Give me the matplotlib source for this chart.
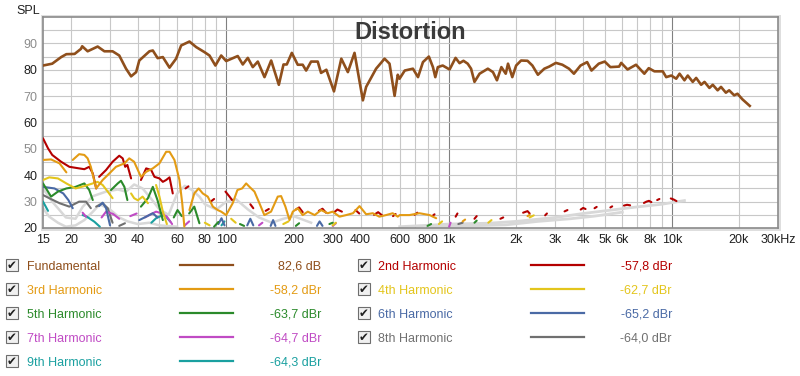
import numpy as np
import matplotlib
matplotlib.use("Agg")
import matplotlib.pyplot as plt
from matplotlib.lines import Line2D
from matplotlib.patches import Rectangle

plt.rcParams["font.family"] = ["Liberation Sans", "DejaVu Sans"]

N = None  # gap marker

# -------------------------------
# Data
# -------------------------------
fund_f = [15, 16.5, 18.1, 19.1, 20.8, 22.2, 22.5, 23.8, 26.4, 28.3, 30.8, 33.0, 35.4, 37.3,
          39.3, 40.6, 45.1, 46.7, 49.1, 51.8, 55.5, 59.4, 62.6, 68.2, 73.1, 79.6, 83.9, 89.2,
          94.7, 99.7, 106.7, 112.4, 118.4, 124.7, 131.3, 138.3, 148.2, 158.8, 171.9, 180.4,
          186.6, 196.6, 209, 220, 228, 240, 257, 266, 281, 304, 328, 351, 376, 410, 424, 470,
          513, 540, 569, 588, 599, 632, 688, 725, 763, 811, 846, 867, 890, 936, 1005, 1069,
          1114, 1160, 1212, 1255, 1300, 1370, 1493, 1574, 1640, 1717, 1796, 1839, 1922, 2000,
          2105, 2249, 2366, 2505, 2677, 2816, 3017, 3226, 3456, 3635, 3893, 4168, 4360, 4700,
          5000, 5300, 5800, 5930, 6330, 6910, 7530, 7880, 8360, 9110, 9440, 9950, 10470, 10840,
          11400, 11800, 12420, 12870, 13550, 14030, 14760, 15280, 16070, 16640, 17500, 18100,
          19070, 19730, 20760, 22400]
fund_db = [81.6, 82.3, 84.8, 85.9, 86.0, 87.9, 88.9, 87.0, 88.8, 87.0, 87.0, 85.4, 80.4, 77.5,
           79.1, 83.5, 87.0, 87.3, 84.4, 84.8, 80.8, 84.2, 89.2, 90.7, 88.6, 86.7, 85.4, 81.6,
           85.4, 83.3, 84.4, 85.2, 82.0, 84.5, 81.0, 83.1, 77.2, 83.5, 74.3, 82.0,
           82.0, 86.4, 81.9, 81.9, 79.7, 83.1, 83.1, 78.8, 80.0, 71.8, 84.2, 79.1, 86.4, 68.4, 73.5, 80.4,
           84.2, 82.3, 70.1, 78.1, 76.6, 79.7, 80.4, 77.2, 82.9, 85.0, 81.0, 77.2, 81.0, 81.6, 80.1, 84.5,
           82.5, 83.4, 82.3, 80.4, 75.4, 78.5, 80.4, 79.1, 76.0, 81.0, 78.5, 82.3, 77.2, 81.6,
           83.5, 83.4, 81.6, 78.1, 80.4, 81.2, 82.6, 81.9, 80.4, 78.5, 81.6, 82.9, 79.7, 82.3,
           83.1, 81.0, 81.2, 82.6, 80.1, 81.9, 78.5, 80.6, 79.4, 79.4, 77.2, 77.8, 76.6, 78.5,
           76.0, 77.8, 75.4, 76.9, 74.3, 75.4, 73.1, 74.3, 72.2, 73.5, 71.3, 72.2,
           70.3, 70.9, 68.8, 66.3]

h2_f = [15, 15.8, 16.5, 18.1, 19.7, 21.8, 23, 24.2, 25.1, 26, N,
        26.8, 28.8, 30.8, 33.0, 34.2, 35.1, 35.9, 37.3, N,
        41.3, 43.6, 45.9, 47.5, 50, 51.8, 53.6, 55.5, 57.4, N,
        65.5, 67.5, N, 85, 88, N, 99, 103, 106, N, 128, 132, N, 150, 155, N,
        205, 212, 220, N, 260, 270, 280, N, 305, 315, 330, N, 380, 395, N,
        460, 480, 500, N, 560, 575, N, 700, 720, N, 840, 860, N,
        1070, 1090, N, 1300, 1330, N, 1700, 1750, N, 2150, 2250, 2300, N, 2700, 2750, N,
        3300, 3400, N, 3900, 4000, 4100, N, 4500, 4600, N, 5300, 5400, N,
        6100, 6300, 6500, N, 7500, 7700, 7900, 8100, N, 8600, 8800, N, 9900, 10200, 10500]
h2_db = [54.0, 50.2, 47.7, 45.1, 43.2, 42.6, 42.3, 43.2, 40.7, 35.0, N,
         39.4, 42.0, 45.1, 47.4, 46.4, 43.2, 43.9, 38.8, N,
         38.2, 42.6, 42.0, 39.4, 38.8, 37.5, 38.2, 39.2, 33.1, N,
         35.0, 35.8, N, 30.0, 31.0, N, 33.8, 32.0, 30.6, N, 29.0, 27.5, N, 26.5, 27.2, N,
         27.0, 27.8, 26.0, N, 26.5, 27.3, 25.8, N, 26.0, 27.0, 26.2, N, 26.8, 25.5, N,
         25.0, 26.0, 24.8, N, 24.5, 25.3, N, 25.0, 25.8, N, 24.5, 25.2, N,
         24.3, 25.5, N, 23.5, 24.5, N, 23.5, 24.0, N, 25.8, 26.4, 25.5, N, 24.8, 25.5, N,
         26.3, 26.8, N, 27.0, 27.6, 27.2, N, 27.5, 28.0, N, 27.8, 28.2, N,
         28.5, 28.8, 28.6, N, 29.5, 30.0, 30.3, 29.8, N, 30.6, 31.0, N, 31.2, 30.8, 30.2]

h3_f = [15, 16.3, 17.8, 19.1, N, 20.4, 21.8, 23, 23.8, 24.6, 26, 27.8, 29.8, 31.9, 34.8, 36.6,
        38.5, 41.3, 43.6, 46.7, 50, 53.6, 55.5, 58.4, 61.5, 63.3, 64.7, N,
        68.2, 71.7, 75, 78.3, 82.4, 86.9, 91.4, 94.7, 99.7, 106.7, 112, 117.6, 122.6, 126.9,
        133.6, 140.6, 148, 158.6, 170, 176, 184, 192, 198.6, 209, 220, 232, 249, 266, 285,
        300, 322, 345, 370, 396, 424, 454, 486, 521, 558, 588, 600, 663, 736, 818, 875, N,
        1150, 1180, N, 2250, 2300]
h3_db = [45.8, 46.0, 44.5, 41.1, N, 45.8, 48.0, 47.7, 46.4, 43.2, 35.0, 38.2, 40.7, 43.2, 44.5, 46.4,
         45.1, 39.4, 41.3, 42.6, 44.5, 48.9, 48.9, 45.8, 38.2, 29.4, 20.5, N,
         26.8, 33.1, 35.0, 33.1, 31.9, 28.1, 26.8, 26.2, 24.9, 29.4, 34.4, 35.0, 36.9, 35.6,
         33.8, 29.4, 24.9, 26.2, 31.9, 32.1, 28.1, 23.0, 26.2, 27.5, 24.9, 26.2, 24.9, 26.8, 25.6,
         26.2, 24.3, 24.9, 25.6, 28.3, 25.2, 25.6, 24.3, 24.9, 25.6, 24.3, 24.9, 24.9, 25.6, 24.9, 23.7, N,
         22.5, 23.2, N, 24.5, 25.0]

h4_f = [15, 16, 17.5, 19.1, 21, 23, 25.1, 26.4, 27.8, 29.3, 30.8, N,
        37.3, 38.5, 40, 42, 44.4, N, 48.3, 50, 51.8, 54, N, 80, 84, N, 105, 110, N,
        180, 190, N, 300, 310, N, 900, 930, N, 1500, 1550, N, 2300, 2400]
h4_db = [38.2, 39.2, 38.8, 36.9, 35.0, 35.9, 36.9, 37.5, 36.3, 33.8, 31.3, N,
         33.1, 31.3, 30.5, 31.9, 29.4, N, 36.3, 31.9, 26.2, 21.5, N, 22.0, 21.0, N, 23.5, 22.0, N,
         21.5, 22.5, N, 21.0, 22.0, N, 21.5, 22.5, N, 22.0, 23.0, N, 24.0, 24.8]

h5_f = [15, 16.3, 17.5, 19.1, 21, 23, 24.2, 25.1, N, 30.3, 32.5, 33.6, 34.8, 35.9, N,
        41.3, 44.4, 46.7, 49, 51.8, N, 58, 60.3, 63, N, 68, 71.7, 75.6, N,
        88, 92, N, 115, 120, N, 205, 212, N, 290, 300, N, 800, 830, N, 1300, 1330]
h5_db = [36.9, 31.9, 33.8, 35.0, 35.6, 36.9, 34.4, 30.6, N, 34.4, 36.9, 37.9, 35.6, 30.6, N,
         28.1, 31.3, 35.6, 30.6, 23.0, N, 24.0, 26.8, 24.5, N, 25.5, 28.1, 21.8, N,
         20.5, 22.3, N, 21.5, 20.8, N, 20.8, 21.8, N, 21.5, 22.0, N, 20.8, 21.5, N, 22.0, 22.8]

h6_f = [15, 16.9, 18.5, 19.5, 20.4, N, 26.8, 27.8, 28.8, 30, N, 40.6, 43.6, 46.7, 49, N,
        92, 95, 98, N, 124, 128, 132, N, 158, 162, 166, N, 255, 262, 270]
h6_db = [35.6, 35.0, 33.1, 30.6, 27.5, N, 28.3, 29.6, 27.5, 21.0, N, 23.0, 24.3, 25.6, 24.0, N,
         21.5, 23.7, 21.0, N, 21.0, 23.5, 21.0, N, 20.8, 23.0, 20.8, N, 20.8, 22.5, 20.8]

h7_f = [22.6, 23.4, N, 27.5, 28.8, 31, 33, N, 37, 39.5, N, 43, 45, 48.3, 51, 54, 57, N,
        65, 68, N, 140, 145, N, 300, 310, N, 1000, 1015]
h7_db = [25.8, 24.3, N, 24.0, 26.2, 25.3, 23.5, N, 24.5, 25.5, N, 24.0, 24.9, 26.2, 25.6, 24.3, 21.5, N,
         21.0, 22.5, N, 21.0, 22.0, N, 20.8, 21.8, N, 20.5, 22.0]

h8_f = [15, 16, 17.8, 19.7, 21.8, 23.4, 24.6, N, 26, 27.8, 29.3, 30.8, N, 33, 35, N, 1100, 1150]
h8_db = [32.5, 31.3, 29.4, 28.1, 30.0, 30.0, 27.5, N, 28.1, 29.4, 27.5, 22.0, N, 20.8, 21.8, N, 21.5, 22.0]

h9_f = [15, 15.5, 15.8, N, 22.6, 23.6, 25.5, 27, N, 46, 48.3, 51.8, 53.5, 56, N, 95, 98]
h9_db = [30.0, 27.8, 26.5, N, 24.9, 24.3, 22.4, 20.5, N, 22.0, 23.7, 24.9, 24.3, 22.4, N, 21.0, 22.5]

grey_a_f = [15, 16.5, 17.8, 19, 21, 22.6, 25, 28.8, 32.5, 35.4, 38.5, 42, 46, 50, 55, 60, 65, 70,
            75.6, 80, 90, 100, 110, 125, 140, 160, 180, 200, 240]
grey_a_db = [35.0, 30.0, 26.8, 24.0, 23.5, 28.0, 32.0, 33.8, 34.6, 33.8, 36.5, 35.0, 31.0, 27.0, 25.0,
             33.0, 36.0, 34.4, 31.9, 29.0, 27.0, 30.0, 31.0, 27.0, 24.0, 22.0, 23.5, 24.5, 22.0]
grey_b_f = [15, 16, 17.5, 19, 21, 23, 25, 27, 30, 33, 36, 40, 45, 50, 60]
grey_b_db = [27.5, 24.3, 22.0, 20.5, 21.0, 23.0, 26.0, 29.0, 27.0, 24.0, 22.5, 21.5, 22.0, 21.0, 20.5]
grey_c_f = [600, 800, 1000, 1500, 2000, 3000, 4000, 5000, 7000, 9000, 11400]
grey_c_db = [20.5, 21.0, 21.5, 21.8, 22.5, 24.0, 25.5, 26.5, 28.0, 29.0, 30.4]
grey_d_f = [800, 1200, 1800, 2500, 3500, 4500, 6000]
grey_d_db = [20.3, 20.8, 21.2, 22.5, 23.5, 24.5, 26.0]

legend_names = ["Fundamental", "2nd Harmonic", "3rd Harmonic", "4th Harmonic", "5th Harmonic",
                "6th Harmonic", "7th Harmonic", "8th Harmonic", "9th Harmonic"]
legend_values = ["82,6 dB", "-57,8 dBr", "-58,2 dBr", "-62,7 dBr", "-63,7 dBr",
                 "-65,2 dBr", "-64,7 dBr", "-64,0 dBr", "-64,3 dBr"]
colors = ["#8f4f1c", "#b40000", "#e39b14", "#e3c51c", "#2b8a2b",
          "#4a6aa5", "#c04bc4", "#707070", "#1aa0a0"]

x_ticks = [15, 20, 30, 40, 60, 80, 100, 200, 300, 400, 600, 800, 1000, 2000, 3000, 4000,
           5000, 6000, 8000, 10000, 20000, 30000]
x_labels = ["15", "20", "30", "40", "60", "80", "100", "200", "300", "400", "600", "800", "1k",
            "2k", "3k", "4k", "5k", "6k", "8k", "10k", "20k", "30kHz"]


def arr(v):
    return np.array([np.nan if x is None else x for x in v], dtype=float)


# -------------------------------
# Figure
# -------------------------------
fig = plt.figure(figsize=(8, 3.76), dpi=100)
L, R, T, B = 43, 778, 17, 228
ax = fig.add_axes([L / 800, 1 - B / 376, (R - L) / 800, (B - T) / 376])
ax.set_zorder(2)

# frame shadow behind the axes
shadow = Rectangle(((L - 2) / 800, 1 - (B + 3) / 376), (R - L + 5) / 800, (B - T + 5) / 376,
                   transform=fig.transFigure, facecolor="#dedede", edgecolor="none", zorder=-1)
fig.patches.append(shadow)

ax.set_xscale("log")
ax.set_xlim(15, 30000)
ax.set_ylim(20, 100)

# grid
for d in [10, 100, 1000, 10000]:
    for m in range(1, 10):
        f = d * m
        if 15 < f < 30000:
            dark = m == 1 and d in (100, 1000, 10000)
            ax.axvline(f, color="#808080" if dark else "#c8c8c8", lw=0.8, zorder=1)
for y in range(25, 100, 5):
    ax.axhline(y, color="#c8c8c8", lw=0.8, zorder=1)

# curves
ax.plot(arr(grey_a_f), arr(grey_a_db), color="#d8d8d8", lw=1.8, zorder=2)
ax.plot(arr(grey_b_f), arr(grey_b_db), color="#d8d8d8", lw=1.8, zorder=2)
ax.plot(arr(grey_c_f), arr(grey_c_db), color="#d8d8d8", lw=2.0, zorder=2)
ax.plot(arr(grey_d_f), arr(grey_d_db), color="#d8d8d8", lw=2.0, zorder=2)

series = [(h9_f, h9_db, 8), (h8_f, h8_db, 7), (h7_f, h7_db, 6), (h6_f, h6_db, 5),
          (h5_f, h5_db, 4), (h4_f, h4_db, 3), (h2_f, h2_db, 1), (h3_f, h3_db, 2)]
for fx, dy, ci in series:
    ax.plot(arr(fx), arr(dy), color=colors[ci], lw=1.5, zorder=3, solid_capstyle="round")
ax.plot(fund_f, fund_db, color=colors[0], lw=1.9, zorder=4)

# ticks
ax.set_xticks(x_ticks)
ax.set_xticklabels(x_labels, fontsize=9, color="#202020")
ax.xaxis.set_minor_locator(matplotlib.ticker.NullLocator())
ax.set_yticks([20, 30, 40, 50, 60, 70, 80, 90])
ax.set_yticklabels(["20", "30", "40", "50", "60", "70", "80", "90"], fontsize=9)
for i, lab in enumerate(ax.get_yticklabels()):
    lab.set_color("#202020" if i % 2 == 0 else "#8c8c8c")
ax.tick_params(length=0, pad=4)
for s in ax.spines.values():
    s.set_color("#8a8a8a")
    s.set_linewidth(1.2)

ax.text(0.5, 0.925, "Distortion", transform=ax.transAxes, ha="center", va="center",
        fontsize=17, fontweight="bold", color="#3a3a3a", zorder=5)
fig.text(28 / 800, 1 - 11 / 376, "SPL", ha="center", va="center", fontsize=9, color="#202020")

# -------------------------------
# Legend (REW style)
# -------------------------------
rows_y = [265, 289, 313, 337, 361]
cols = [(12, 27, 180, 233, 321), (364, 378, 531, 584, 672)]
for i, (name, val) in enumerate(zip(legend_names, legend_values)):
    cx, tx, l0, l1, vx = cols[i % 2]
    yy = 1 - rows_y[i // 2] / 376
    fig.patches.append(Rectangle(((cx - 6) / 800, yy - 6 / 376), 12 / 800, 12 / 376,
                                 transform=fig.transFigure, facecolor="#f0f0f0",
                                 edgecolor="#6e6e6e", lw=0.8))
    fig.text(cx / 800, yy, "\u2714", ha="center", va="center", fontsize=8.5,
             color="#202020", family="DejaVu Sans")
    fig.text(tx / 800, yy, name, ha="left", va="center_baseline", fontsize=9, color=colors[i])
    fig.lines.append(Line2D([l0 / 800, l1 / 800], [yy, yy], transform=fig.transFigure,
                            color=colors[i], lw=1.6))
    fig.text(vx / 800, yy, val, ha="right", va="center_baseline", fontsize=9, color=colors[i])

fig.savefig("out.png", dpi=100)
